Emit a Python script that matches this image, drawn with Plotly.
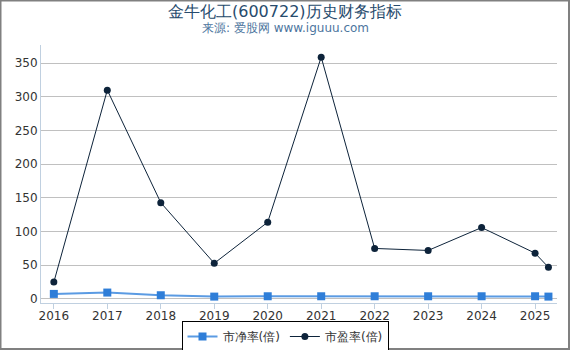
import plotly.graph_objects as go

years = [2016, 2017, 2018, 2019, 2020, 2021, 2022, 2023, 2024, 2025, 2025.25]
pb = [7.5, 9.5, 5.5, 3.5, 4.0, 4.0, 4.0, 4.0, 4.0, 4.0, 3.5]
pe = [25, 310, 143, 53, 114, 359, 75, 72, 106, 68, 47]
tick_years = [2016, 2017, 2018, 2019, 2020, 2021, 2022, 2023, 2024, 2025]
tick_labels = [str(y) for y in tick_years]
title_text = "金牛化工(600722)历史财务指标"
subtitle_text = "来源: 爱股网 www.iguuu.com"

W, H = 570, 350
ML, MR, MT, MB = 41, 13, 45, 47
PW, PH = W - ML - MR, H - MT - MB


def px_x(px):
    return (px - ML) / PW


def px_y(py):
    return (H - MB - py) / PH


fig = go.Figure()
fig.add_trace(go.Scatter(
    x=years, y=pb, name="市净率(倍)", mode="lines+markers",
    line=dict(color="#5b9be3", width=2),
    marker=dict(symbol="square", size=8, color="#2f7ed8"),
    cliponaxis=False,
))
fig.add_trace(go.Scatter(
    x=years, y=pe, name="市盈率(倍)", mode="lines+markers",
    line=dict(color="#0d233a", width=1),
    marker=dict(symbol="circle", size=7, color="#0d233a"),
    cliponaxis=False,
))

fig.update_layout(
    width=W, height=H,
    margin=dict(l=ML, r=MR, t=MT, b=MB, pad=0, autoexpand=False),
    paper_bgcolor="white", plot_bgcolor="white",
    font=dict(family="DejaVu Sans", size=12, color="#333333"),
    xaxis=dict(
        range=[2015.76, 2025.41], tickvals=tick_years, ticktext=tick_labels,
        showgrid=False, showline=True, linecolor="#c0d0e0", linewidth=1,
        ticks="outside", ticklen=5, tickcolor="#c0d0e0",
        tickfont=dict(size=12, color="#333333"), zeroline=False,
        automargin=False, ticklabelstandoff=-3,
    ),
    yaxis=dict(
        range=[-6, 377], tickvals=[0, 50, 100, 150, 200, 250, 300, 350],
        showgrid=True, gridcolor="#c0c0c0", gridwidth=1,
        showline=True, linecolor="#c0d0e0", linewidth=1,
        tickfont=dict(size=12, color="#333333"), zeroline=False,
        automargin=False,
    ),
    legend=dict(
        orientation="h", x=px_x(285), xanchor="center",
        y=px_y(321), yanchor="top",
        bordercolor="#000000", borderwidth=1, bgcolor="white",
        font=dict(size=12, color="#333333"),
        itemwidth=30, tracegroupgap=0,
    ),
    showlegend=True,
    annotations=[
        dict(text=title_text, xref="paper", yref="paper", x=px_x(285), y=px_y(11),
             xanchor="center", yanchor="middle", showarrow=False,
             font=dict(size=16, color="#274b6d")),
        dict(text=subtitle_text, xref="paper", yref="paper", x=px_x(285), y=px_y(28),
             xanchor="center", yanchor="middle", showarrow=False,
             font=dict(size=12, color="#4d759e")),
    ],
    shapes=[dict(
        type="rect", xref="paper", yref="paper",
        x0=px_x(0.5), x1=px_x(W - 1),
        y0=px_y(H - 1), y1=px_y(0.5),
        line=dict(color="#808080", width=2), fillcolor="rgba(0,0,0,0)",
        layer="above",
    )],
)

fig.write_html("out.html")
